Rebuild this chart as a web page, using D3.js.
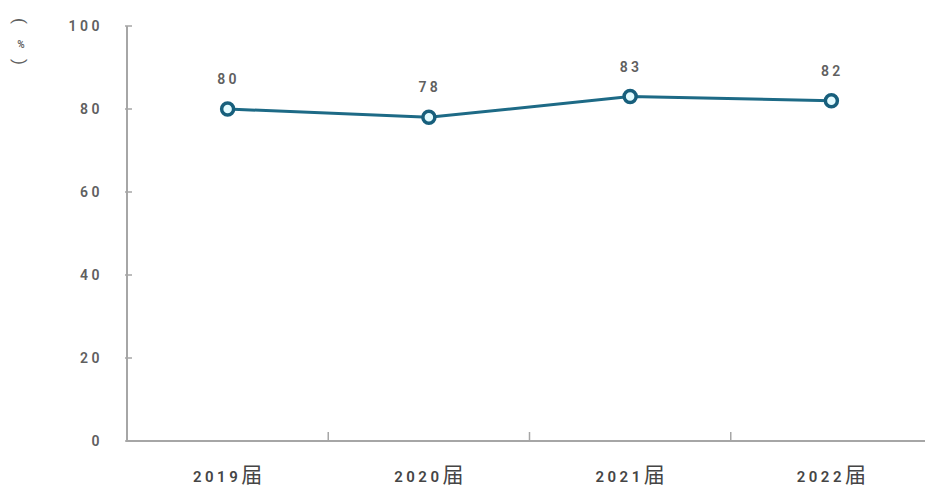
<!DOCTYPE html>
<html><head><meta charset="utf-8">
<script src="https://cdn.jsdelivr.net/npm/d3@7"></script>
<style>
html,body{margin:0;padding:0;background:#fff;}
svg{display:block;}
text{font-family:Roboto,"Noto Sans CJK SC","Noto Sans",sans-serif;}
</style></head>
<body><svg id="c" width="925" height="488"></svg>
<script>
const categories = ["2019届","2020届","2021届","2022届"];
const values = [80, 78, 83, 82];
const yTicks = [0, 20, 40, 60, 80, 100];

const svg = d3.select("#c");
const m = {left:127, right:-7, top:26, bottom:47};
const W = 925, H = 488;
const x = d3.scaleBand().domain(categories).range([m.left, W - m.right]);
const y = d3.scaleLinear().domain([0,100]).range([H - m.bottom, m.top]);
const axisColor = "#a6a6a6";
const textColor = "#606060";

// y axis line
svg.append("line").attr("x1", m.left).attr("x2", m.left)
  .attr("y1", y(100)).attr("y2", y(0)).attr("stroke", axisColor).attr("stroke-width", 2);
// y ticks
svg.selectAll(".yt").data(yTicks).join("line")
  .attr("x1", m.left - 2).attr("x2", m.left + 5)
  .attr("y1", d => y(d)).attr("y2", d => y(d))
  .attr("stroke", axisColor).attr("stroke-width", 1.5);
svg.selectAll(".yl").data(yTicks).join("text")
  .attr("x", 103).attr("y", d => y(d)).attr("dy", "0.35em")
  .attr("text-anchor", "end").attr("font-size", 14).attr("font-weight", 600)
  .attr("letter-spacing", "3.5px").attr("fill", textColor)
  .text(d => d);

// x axis
svg.append("line").attr("x1", m.left - 1).attr("x2", W)
  .attr("y1", y(0)).attr("y2", y(0)).attr("stroke", axisColor).attr("stroke-width", 2);
svg.selectAll(".xt").data(categories.slice(1)).join("line")
  .attr("x1", d => x(d)).attr("x2", d => x(d))
  .attr("y1", y(0)).attr("y2", y(0) - 9)
  .attr("stroke", axisColor).attr("stroke-width", 1.5);
const xl = svg.selectAll(".xl").data(categories).join("text")
  .attr("x", d => x(d) + x.bandwidth()/2).attr("y", 482)
  .attr("text-anchor", "middle").attr("fill", "#454545").attr("font-weight", 600);
xl.append("tspan").attr("font-size", 15).attr("letter-spacing", "3.5px").text(d => d.slice(0,4));
xl.append("tspan").attr("font-size", 21).attr("font-weight", 400).text(d => d.slice(4));

// y axis title (vertical)
const tg = svg.append("g").attr("fill", textColor);
tg.append("text").attr("transform", "translate(20,21) rotate(90)")
  .attr("text-anchor", "middle").attr("dy", "0.35em").attr("font-size", 17).text("(");
tg.append("text").attr("x", 21).attr("y", 44).attr("dy", "0.35em").attr("font-weight", 600)
  .attr("text-anchor", "middle").attr("font-size", 10).text("%");
tg.append("text").attr("transform", "translate(20,62) rotate(90)")
  .attr("text-anchor", "middle").attr("dy", "0.35em").attr("font-size", 17).text(")");

// line
const cx = (d,i) => x(categories[i]) + x.bandwidth()/2;
const line = d3.line().x((d,i) => cx(d,i)).y(d => y(d));
svg.append("path").datum(values).attr("d", line)
  .attr("fill", "none").attr("stroke", "#1d6a86").attr("stroke-width", 3);
svg.selectAll(".pt").data(values).join("circle")
  .attr("cx", (d,i) => cx(d,i)).attr("cy", d => y(d)).attr("r", 6)
  .attr("fill", "#e3fbff").attr("stroke", "#175f7c").attr("stroke-width", 3.5);
svg.selectAll(".vl").data(values).join("text")
  .attr("x", (d,i) => cx(d,i) + 1).attr("y", d => y(d) - 25)
  .attr("text-anchor", "middle").attr("font-size", 14).attr("font-weight", 600)
  .attr("letter-spacing", "3.5px").attr("fill", textColor)
  .text(d => d);
</script></body></html>
